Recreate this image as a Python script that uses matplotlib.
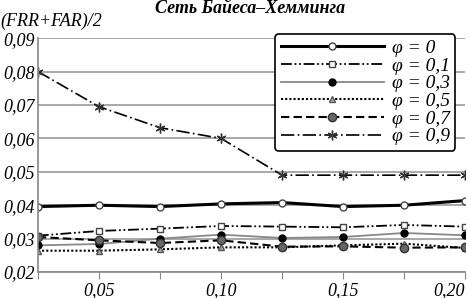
import matplotlib.pyplot as plt
import matplotlib as mpl

mpl.rcParams['font.family'] = 'Liberation Serif'

x = [0.025, 0.05, 0.075, 0.10, 0.125, 0.15, 0.175, 0.20]
phi0 = [0.0396, 0.0400, 0.0396, 0.0404, 0.0408, 0.0396, 0.0400, 0.0414]
phi1 = [0.0309, 0.0323, 0.0330, 0.0338, 0.0336, 0.0334, 0.0341, 0.0336]
phi3 = [0.0280, 0.0284, 0.0300, 0.0312, 0.0302, 0.0305, 0.0317, 0.0310]
phi5 = [0.0264, 0.0264, 0.0268, 0.0274, 0.0274, 0.0280, 0.0285, 0.0272]
phi7 = [0.0305, 0.0295, 0.0287, 0.0295, 0.0276, 0.0277, 0.0273, 0.0274]
phi9 = [0.0800, 0.0695, 0.0632, 0.0600, 0.0490, 0.0490, 0.0490, 0.0490]
labels = ['0', '0,1', '0,3', '0,5', '0,7', '0,9']

fig = plt.figure(figsize=(4.68, 2.98), dpi=100)
ax = fig.add_axes([0.081, 0.087, 0.913, 0.785])

ax.plot(x, phi0, color='black', lw=2.2, marker='o', ms=5, mfc='white', mec='#444444', label='φ = ' + labels[0])
ax.plot(x, phi1, color='black', lw=1.3, ls=(0, (6, 1.5, 1, 1.5, 1, 1.5)), marker='s', ms=5,
        mfc='white', mec='#444444', label='φ = ' + labels[1])
ax.plot(x, phi3, color='#888888', lw=1.3, marker='o', ms=5, mfc='black', mec='black', label='φ = ' + labels[2])
ax.plot(x, phi5, color='black', lw=1.5, ls=(0, (1, 1)), marker='^', ms=5, mfc='#aaaaaa', mec='#555555',
        label='φ = ' + labels[3])
ax.plot(x, phi7, color='black', lw=1.5, ls=(0, (4, 2)), marker='o', ms=6, mfc='#666666', mec='#333333',
        label='φ = ' + labels[4])
ax.plot(x, phi9, color='black', lw=1.2, ls=(0, (8, 2, 1, 2)), marker=(6, 2, 0), ms=7, mec='#333333',
        label='φ = ' + labels[5])

ax.set_xlim(0.025, 0.20)
ax.set_ylim(0.02, 0.09)
ax.set_yticks([0.02, 0.03, 0.04, 0.05, 0.06, 0.07, 0.08, 0.09])
ax.set_yticklabels(['0,02', '0,03', '0,04', '0,05', '0,06', '0,07', '0,08', '0,09'], fontstyle='italic', fontsize=13)
ax.set_xticks(x)
ax.set_xticklabels(['', '0,05', '', '0,10', '', '0,15', '', '0,20'], fontstyle='italic', fontsize=13)
ax.get_xticklabels()[-1].set_ha('right')
ax.tick_params(axis='y', length=0, pad=2)
ax.tick_params(axis='x', length=5, color='#888888', pad=2)
ax.yaxis.grid(True, color='#999999', lw=1.2)
ax.set_axisbelow(True)
for s in ['top', 'right']:
    ax.spines[s].set_visible(False)
for s in ['left', 'bottom']:
    ax.spines[s].set_color('#888888')
    ax.spines[s].set_linewidth(1.2)

leg = ax.legend(loc='upper right', bbox_to_anchor=(1.0, 1.06), prop={'style': 'italic', 'size': 14},
                frameon=True, fancybox=True, edgecolor='black', handlelength=5.3, labelspacing=0.0,
                borderpad=0.3, handletextpad=0.4)
leg.get_frame().set_linewidth(1.2)
leg.get_frame().set_alpha(1)

fig.text(0.535, 0.972, 'Сеть Байеса–Хемминга', fontsize=13, fontweight='bold', fontstyle='italic',
         ha='center', va='center')
fig.text(0.0, 0.928, '(FRR+FAR)/2', fontsize=13, fontstyle='italic', ha='left', va='center')

fig.savefig('out.png', dpi=100)
